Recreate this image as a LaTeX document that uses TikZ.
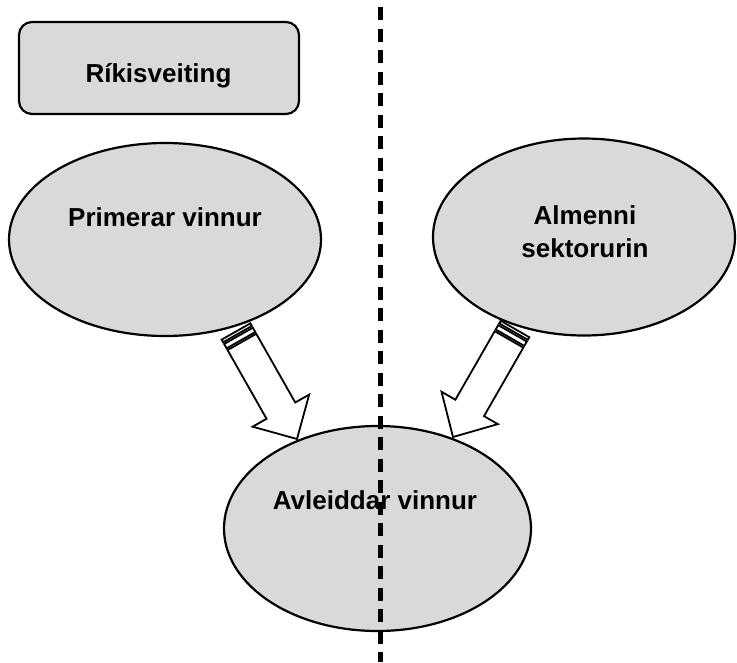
\documentclass[tikz,border=0pt]{standalone}
\usepackage{fontspec}
\setmainfont{Liberation Sans}
\usetikzlibrary{shapes.geometric,calc}
\definecolor{shapefill}{RGB}{217,217,217}

% Striped block arrow from a tail point #1 to a tip point #2
\newcommand\stripearrow[2]{%
  \draw[arrowshape]
    ($(#1)!12pt!(#2)!16.5pt!90:(#2)$) --
    ($(#1)!91pt!(#2)!16.5pt!90:(#2)$) --
    ($(#1)!91pt!(#2)!32.5pt!90:(#2)$) --
    (#2) --
    ($(#1)!91pt!(#2)!32.5pt!-90:(#2)$) --
    ($(#1)!91pt!(#2)!16.5pt!-90:(#2)$) --
    ($(#1)!12pt!(#2)!16.5pt!-90:(#2)$) -- cycle;
  \draw[arrowshape]
    ($(#1)!0pt!(#2)!16.5pt!90:(#2)$) --
    ($(#1)!3pt!(#2)!16.5pt!90:(#2)$) --
    ($(#1)!3pt!(#2)!16.5pt!-90:(#2)$) --
    ($(#1)!0pt!(#2)!16.5pt!-90:(#2)$) -- cycle;
  \draw[arrowshape]
    ($(#1)!5pt!(#2)!16.5pt!90:(#2)$) --
    ($(#1)!10pt!(#2)!16.5pt!90:(#2)$) --
    ($(#1)!10pt!(#2)!16.5pt!-90:(#2)$) --
    ($(#1)!5pt!(#2)!16.5pt!-90:(#2)$) -- cycle;
}

\begin{document}
\begin{tikzpicture}[x=1pt,y=-1pt,
  bubble/.style={ellipse,draw=black,fill=shapefill,line width=2.2pt,inner sep=0pt},
  grantbox/.style={rectangle,rounded corners=13pt,draw=black,fill=shapefill,line width=2.2pt,inner sep=0pt},
  label/.style={font=\fontsize{26}{33}\selectfont\bfseries,inner sep=0pt,anchor=base},
  arrowshape/.style={draw=black,fill=white,line width=1.8pt,line join=miter},
  divider/.style={line width=4.5pt,dash pattern=on 13pt off 8.5pt}]

\useasboundingbox (0,0) rectangle (737,662);

% boxes and bubbles
\node[grantbox,minimum width=280pt,minimum height=92pt] (grant) at (159,68) {};
\node[bubble,minimum width=312pt,minimum height=193pt] (primary) at (165,239.5) {};
\node[bubble,minimum width=302pt,minimum height=197pt] (public) at (584,237) {};
\node[bubble,minimum width=307pt,minimum height=205pt] (derived) at (377.5,528.5) {};

% texts
\node[label] (granttext) at (158.5,82) {Ríkisveiting};
\node[label] (primarytext) at (165,226) {Primerar vinnur};
\node[label] (publictextA) at (585,224) {Almenni};
\node[label] (publictextB) at (585,257) {sektorurin};
\node[label] (derivedtext) at (375,509) {Avleiddar vinnur};

% striped block arrows
\coordinate (lefttail) at (236,331.5);
\coordinate (lefttip) at (297,439);
\coordinate (righttail) at (515,329);
\coordinate (righttip) at (453,437);
\stripearrow{lefttail}{lefttip}
\stripearrow{righttail}{righttip}

% dividing line
\coordinate (divtop) at (380.5,7);
\coordinate (divbottom) at (380.5,662);
\draw[divider] (divtop) -- (divbottom);

\end{tikzpicture}
\end{document}
